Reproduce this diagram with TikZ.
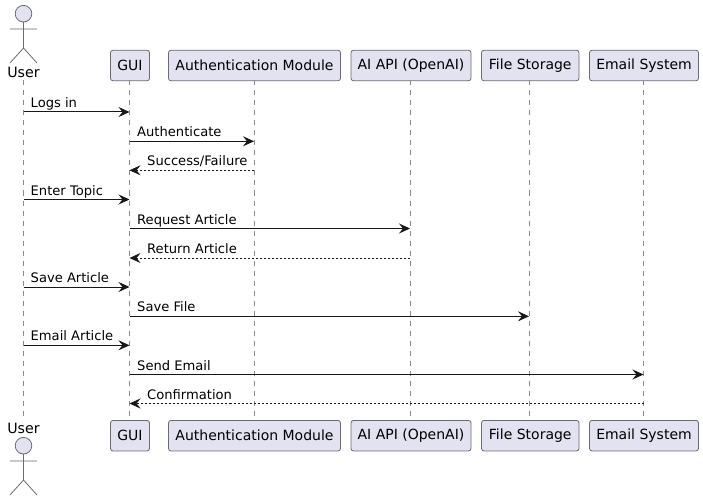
\documentclass[tikz,border=0pt]{standalone}
\usepackage{fontspec}
\setmainfont{DejaVu Sans}
\usetikzlibrary{arrows.meta}
\definecolor{partfill}{HTML}{E2E2F0}
\definecolor{partline}{HTML}{6A6A72}
\definecolor{lifeline}{HTML}{8A8A8A}
\definecolor{msgcol}{HTML}{181818}
\tikzset{
  x=1bp,y=-1bp,
  part/.style={draw=partline,fill=partfill,rounded corners=2.5bp,line width=0.8bp,inner sep=0pt,minimum height=30.5bp,font=\fontsize{14bp}{16bp}\selectfont,text=black,anchor=center},
  life/.style={draw=lifeline,line width=0.8bp,dash pattern=on 5bp off 5bp},
  actorline/.style={draw=partline,line width=0.8bp},
  actorhead/.style={actorline,fill=partfill},
  msg/.style={draw=msgcol,line width=1bp,-{Stealth[length=11bp,width=10bp,inset=4bp,fill=msgcol]}},
  ret/.style={draw=msgcol,line width=0.8bp,dash pattern=on 2bp off 2bp,-{Stealth[length=11bp,width=10bp,inset=4bp,fill=msgcol]}},
  lab/.style={font=\fontsize{13.1bp}{15bp}\selectfont,text=black,anchor=base west,inner sep=0pt,yshift=-0.8bp},
  actorlab/.style={font=\fontsize{14.2bp}{16bp}\selectfont,text=black,inner sep=0pt,anchor=base},
}
\begin{document}
\begin{tikzpicture}
\useasboundingbox[fill=white] (0,0) rectangle (703,501);
% lifelines
\foreach \n/\x in {user/23.5,gui/129.5,auth/254,ai/410,file/529,mail/643.5}{
  \coordinate (\n T) at (\x,80.5);
  \coordinate (\n B) at (\x,420.5);
  \draw[life] (\n T) -- (\n B);
}
% participants
\foreach \n/\xa/\xb/\t in {gui/110.5/149.5/GUI,auth/168.5/340.5/Authentication Module,ai/351/471/AI API (OpenAI),file/481.5/579/File Storage,mail/589.5/698.5/Email System}{
  \pgfmathsetmacro{\w}{\xb-\xa}
  \pgfmathsetmacro{\c}{(\xa+\xb)/2}
  \node[part,minimum width=\w bp] (\n top) at (\c,65.5) {\t};
  \node[part,minimum width=\w bp] (\n bot) at (\c,435.7) {\t};
}
% actors
\node[actorlab] (usertoplab) at (23.5,77.7) {User};
\node[actorlab] (userbotlab) at (23.5,433.5) {User};
\draw[actorhead] (23.5,13.7) circle (8.3);
\draw[actorline] (23.5,22) -- (23.5,48) (10,29) -- (37,29) (10,63) -- (23.5,48) -- (37,63);
\draw[actorhead] (23.5,445.7) circle (8.3);
\draw[actorline] (23.5,454) -- (23.5,480) (10,461) -- (37,461) (10,495) -- (23.5,480) -- (37,495);
% message rows
\foreach \m/\y in {a/112,b/141.3,c/170.3,d/199.5,e/228.5,f/258,g/287,h/316.3,i/345.3,j/374.5,k/403.5}{
  \coordinate (\m) at (0,\y);
}
\draw[msg] (userT|-a) -- (guiT|-a);
\node[lab] (la) at (30.5,107) {Logs in};
\draw[msg] (guiT|-b) -- (authT|-b);
\node[lab] (lb) at (137,136) {Authenticate};
\draw[ret] (authT|-c) -- (guiT|-c);
\node[lab] (lc) at (147,165) {Success/Failure};
\draw[msg] (userT|-d) -- (guiT|-d);
\node[lab] (ld) at (30.5,194.3) {Enter Topic};
\draw[msg] (guiT|-e) -- (aiT|-e);
\node[lab] (le) at (137,223.3) {Request Article};
\draw[ret] (aiT|-f) -- (guiT|-f);
\node[lab] (lf) at (147,252.7) {Return Article};
\draw[msg] (userT|-g) -- (guiT|-g);
\node[lab] (lg) at (30.5,281.7) {Save Article};
\draw[msg] (guiT|-h) -- (fileT|-h);
\node[lab] (lh) at (137,311) {Save File};
\draw[msg] (userT|-i) -- (guiT|-i);
\node[lab] (li) at (30.5,340) {Email Article};
\draw[msg] (guiT|-j) -- (mailT|-j);
\node[lab] (lj) at (137,369.3) {Send Email};
\draw[ret] (mailT|-k) -- (guiT|-k);
\node[lab] (lk) at (147,398.3) {Confirmation};
\end{tikzpicture}
\end{document}
